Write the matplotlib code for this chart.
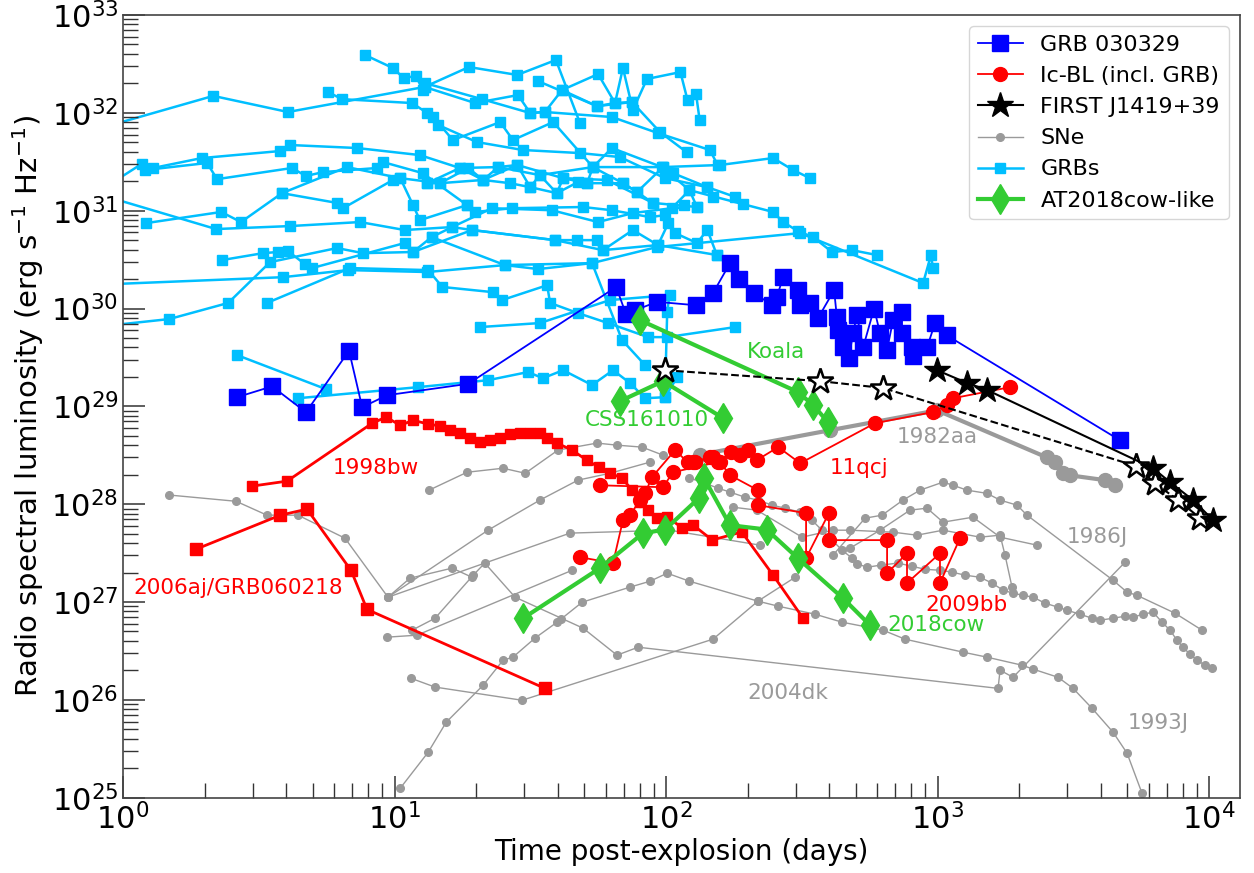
import matplotlib

matplotlib.use("Agg")
import matplotlib.pyplot as plt
from matplotlib.lines import Line2D
from matplotlib.ticker import LogLocator, NullFormatter

# ---- GRB 030329 (dark blue) ----
grb030329_t = [2.63, 3.54, 4.72, 6.8, 7.6, 9.4, 18.7, 65.5, 71.2, 76.9, 92.7, 129, 149,
               172, 186, 211, 246, 256, 270, 306, 312, 339, 363, 416, 426, 430, 449, 472,
               488, 505, 532, 584, 614, 652, 686, 740, 740, 805, 812, 915, 979, 1084, 4700]
grb030329_L = [1.24e29, 1.6e29, 8.7e28, 3.7e29, 9.8e28, 1.3e29, 1.7e29, 1.66e30, 8.8e29,
               9.6e29, 1.17e30, 1.08e30, 1.44e30, 2.9e30, 2.0e30, 1.44e30, 1.08e30, 1.31e30,
               2.1e30, 1.54e30, 1.08e30, 1.14e30, 7.97e29, 1.54e30, 8.1e29, 6.0e29, 4.0e29,
               3.1e29, 5.6e29, 8.5e29, 4.0e29, 1.0e30, 5.6e29, 3.8e29, 7.6e29, 9.2e29, 5.6e29,
               4.0e29, 3.3e29, 4.0e29, 7.1e29, 5.3e29, 4.5e28]

# ---- other GRBs (light blue) ----
grbs_t = [
    [0.756, 2.15, 4.05, 12.9, 18.8, 28.3, 39.3, 48.2],
    [0.724, 1.17, 1.29, 1.95, 3.79, 4.12, 7.28, 12.4, 17.4, 24.1, 34.3, 53.8, 97.5, 158, 248, 294, 339],
    [41.4, 56.2, 64.9, 69.4, 75.5, 85.1, 113, 120, 129, 133],
    [7.79, 9.87, 10.8, 12.0, 12.7, 12.9, 21.0, 31.6, 35.8, 63.2, 93.4, 145, 155],
    [5.69, 6.41, 11.6, 13.2, 14.5, 20.1, 29.7, 48.2, 67.7, 99.1, 142, 180, 192],
    [1.22, 2.30, 2.72, 3.85, 6.68, 10.5, 14.7, 21.2, 28.3, 41.8, 60.6, 89.5, 130],
    [0.724, 2.20, 4.12, 7.46, 10.9, 16.3, 22.9, 38.0, 56.2, 75.5, 105, 122, 248, 270, 306, 348, 409, 484, 598],
    [0.724, 3.88, 6.74, 13.2, 25.5, 53.4, 92.7, 312, 885, 946, 962],
    [0.724, 1.48, 2.44, 3.48, 6.14, 7.65, 11.7, 19.3, 39.0, 58.6, 93.4, 154],
    [3.39, 6.86, 13.3, 15.0, 23.0, 24.9, 36.5, 37.4, 47.4, 61.1, 85.9, 101, 180],
    [2.32, 3.28, 3.72, 4.05, 4.68, 4.97, 10.9, 11.7, 13.7, 25.5, 33.8, 53.4, 68.9, 83.7],
    [2.63, 5.59],
    [4.41, 12.2, 22.1, 31.0, 35.2, 41.8, 53.4, 63.8, 73.7, 83.7, 99.1, 110],
    [1.20, 2.04, 2.22, 4.19, 4.72, 5.45, 8.62, 9.07, 12.7, 18.5, 19.8, 27.1, 49.5, 63.2, 87.3, 99.1, 116],
    [33.8, 55.7, 75.0, 95, 119],
    [20.6, 34.3, 62.2, 103, 101, 99.1],
    [13.2, 14.7, 18.7, 21.2, 26.6, 31.6, 39.6, 47.4, 51.2, 69.4, 78.2, 89.5],
    [13.9, 16.4, 24.5, 27.3, 38.4, 53.8, 63.2, 96.7, 122, 130],
    [13.7, 16.3, 19.3, 39.0, 47.0, 55.7, 58.6, 75.5, 93.4, 102, 108, 130, 142, 154],
    [13.2, 17.4, 21.2, 24.1, 28.3, 31.6, 34.3, 39.6, 41.8, 51.2, 53.8, 69.4, 78.2, 97.5, 106, 142, 149],
    [12.9, 19.8, 28.5, 31.6, 35.8, 41.4, 55.7, 64.9, 75.0],
    [3.85, 6.14, 6.46, 9.87, 10.5, 11.7, 12.4, 18.5],
]
grbs_L = [
    [6.51e31, 1.49e32, 1.02e32, 1.84e32, 2.94e32, 2.44e32, 3.47e32, 7.87e31],
    [1.28e31, 3.0e31, 2.73e31, 3.45e31, 4.07e31, 4.69e31, 4.37e31, 3.7e31, 2.73e31, 2.79e31,
     2.31e31, 2.79e31, 2.79e31, 2.93e31, 3.45e31, 2.6e31, 2.15e31],
    [1.71e32, 2.49e32, 1.26e32, 2.87e32, 1.07e32, 2.22e32, 2.61e32, 1.35e32, 1.56e32, 8.44e31],
    [3.9e32, 2.87e32, 2.27e32, 2.38e32, 1.71e32, 2.02e32, 1.38e32, 9.96e31, 1.02e32, 9.06e31,
     6.21e31, 4.17e31, 2.93e31],
    [1.63e32, 1.38e32, 1.26e32, 9.96e31, 7.5e31, 5.03e31, 4.17e31, 3.88e31, 3.53e31, 2.15e31,
     1.74e31, 1.38e31, 1.17e31],
    [7.47e30, 9.7e30, 7.65e30, 1.51e31, 2.79e31, 2.15e31, 1.91e31, 2.06e31, 2.93e31, 2.15e31,
     2.06e31, 1.2e31, 1.09e31],
    [1.62e31, 6.49e30, 6.96e30, 7.65e30, 6.34e30, 6.8e30, 1.06e31, 1.01e31, 7.65e30, 9.45e30,
     1.06e31, 1.62e31, 9.7e30, 7.65e30, 6.18e30, 5.37e30, 3.78e30, 3.95e30, 3.52e30],
    [1.73e30, 2.09e30, 2.47e30, 2.36e30, 2.78e30, 2.91e30, 4.25e30, 5.9e30, 1.82e30, 3.52e30, 2.59e30],
    [6.3e29, 7.8e29, 1.14e30, 2.98e30, 4.15e30, 3.68e30, 3.78e30, 6.34e30, 5.0e30, 3.95e30,
     4.45e30, 3.52e30],
    [1.14e30, 2.59e30, 2.47e30, 1.66e30, 1.47e30, 1.22e30, 1.73e30, 1.14e30, 8.97e29, 7.1e29,
     5.1e29, 5.1e29, 6.46e29],
    [3.13e30, 3.68e30, 3.78e30, 3.86e30, 2.84e30, 2.59e30, 4.67e30, 3.78e30, 5.37e30, 2.78e30,
     2.53e30, 2.91e30, 4.75e29, 2.64e29],
    [3.34e29, 1.5e29],
    [1.21e29, 1.57e29, 1.85e29, 2.24e29, 1.94e29, 2.34e29, 1.65e29, 2.34e29, 1.73e29, 1.21e29,
     1.24e29, 1.99e29],
    [2.6e31, 3.07e31, 2.1e31, 2.73e31, 2.26e31, 2.48e31, 2.73e31, 3.14e31, 2.42e31, 1.14e31,
     9.7e30, 1.06e31, 1.09e31, 1.01e31, 8.6e30, 9.0e30, 1.14e31],
    [2.11e32, 1.17e32, 1.29e32, 6.36e31, 3.97e31],
    [6.46e29, 7.1e29, 1.22e30, 1.37e30, 9.2e29, 1.24e29],
    [1.91e31, 1.91e31, 2.73e31, 2.06e31, 1.91e31, 1.74e31, 1.51e31, 1.96e31, 1.91e31, 1.91e31,
     1.55e31, 1.2e31],
    [9.06e31, 5.27e31, 8.05e31, 5.27e31, 8.05e31, 2.79e31, 4.37e31, 2.79e31, 1.62e31, 1.09e31],
    [5.37e30, 6.8e30, 6.34e30, 5.0e30, 5.0e30, 5.0e30, 3.95e30, 6.34e30, 4.45e30, 7.47e30,
     5.9e30, 4.67e30, 6.34e30, 3.52e30],
    [1.91e31, 2.73e31, 2.06e31, 2.79e31, 2.93e31, 1.74e31, 2.31e31, 1.51e31, 2.15e31, 1.91e31,
     2.79e31, 1.91e31, 1.55e31, 2.79e31, 2.42e31, 1.74e31, 1.38e31],
    [1.84e32, 1.26e32, 1.52e32, 9.96e31, 1.02e32, 1.71e32, 1.17e32, 1.26e32, 1.29e32],
    [1.51e31, 1.2e31, 1.06e31, 2.06e31, 2.15e31, 1.14e31, 8.0e30, 1.14e31],
]

# ---- SNe (gray) ----
sne_t = [
    [10.5, 13.3, 15.5, 21.2, 25.1, 27.3, 32.9, 39.7, 41.0, 49.1, 73.7, 87.3, 101, 122, 218, 259,
     354, 445, 630, 759, 1242, 1521, 2047, 2249, 2780, 3157, 3707, 4430, 4990, 5665],  # 1993J
    [11.6, 14.1, 19.5, 21.5, 27.8, 49.5, 66.0, 78.9, 1671, 1700, 1897, 4906],  # 2004dk
    [11.5, 14.1, 29.5, 149, 218, 299],
    [1.48, 2.61, 3.39, 4.41, 6.57, 9.46, 11.4, 16.3, 19.3],
    [9.46, 22.1, 34.3, 47.4, 62.2, 87.3],
    [13.4, 18.5, 25.1, 30.3, 40.0, 55.7, 66.0, 81.6, 97.5],
    [9.46, 44.3, 103, 222],
    [9.38, 12.1, 45.1],
    [412, 541, 625, 746, 862, 1048, 1141, 1284, 1521, 1700, 1963, 2136, 4430, 4990, 5430, 7497, 9425],  # 1986J
    [177, 216, 317, 412, 476, 686, 840, 1048, 1434, 1700, 1773, 1881],
    [476, 614, 792, 915, 1048, 1351, 1700, 2326],
    [122, 139, 155, 172, 195, 218, 246, 274, 312, 345, 375, 409, 445, 484, 507, 552, 617, 715,
     805, 899, 1021, 1131, 1263, 1434, 1588, 1743, 1897, 2065, 2249, 2488, 2779, 2999, 3349,
     3708, 3970, 4430, 4906, 5251, 5713, 6220, 6713, 7185, 7625, 8020, 8511, 9032, 9667, 10260],
]
sne_L = [
    [1.25e25, 2.91e25, 5.9e25, 1.41e26, 2.54e26, 2.73e26, 4.27e26, 6.22e26, 6.67e26, 9.95e26,
     1.42e27, 1.63e27, 1.97e27, 1.63e27, 1.02e27, 9.06e26, 7.5e26, 6.22e26, 5.15e26, 4.17e26,
     3.07e26, 2.73e26, 2.26e26, 2.06e26, 1.7e26, 1.31e26, 8.2e25, 4.67e25, 2.85e25, 1.11e25],
    [5.15e26, 6.82e26, 1.88e27, 2.5e27, 1.12e27, 5.4e26, 2.86e26, 3.45e26, 1.31e26, 2.01e26,
     1.7e26, 2.55e27],
    [1.66e26, 1.35e26, 9.9e25, 4.17e26, 1.02e27, 1.79e27],
    [1.24e28, 1.07e28, 7.72e27, 7.72e27, 4.49e27, 1.12e27, 1.75e27, 2.22e27, 1.79e27],
    [1.12e27, 5.42e27, 1.1e28, 1.76e28, 2.07e28, 2.69e28],
    [1.39e28, 2.12e28, 2.33e28, 2.07e28, 3.57e28, 4.21e28, 4.01e28, 3.83e28, 3.17e28],
    [1.12e27, 5.06e27, 5.42e27, 3.81e27],
    [4.37e26, 4.58e26, 2.11e27],
    [3.01e27, 7.19e27, 7.72e27, 1.1e28, 1.39e28, 1.68e28, 1.56e28, 1.39e28, 1.29e28, 1.1e28,
     9.77e27, 7.72e27, 1.67e27, 1.26e27, 1.17e27, 7.68e26, 5.15e26],
    [9.3e27, 8.69e27, 4.6e27, 5.42e27, 5.42e27, 5.17e27, 4.82e27, 5.42e27, 4.6e27, 4.82e27,
     3.01e27, 1.42e27],
    [3.55e27, 5.42e27, 8.69e27, 9.1e27, 6.55e27, 7.36e27, 4.6e27, 3.81e27],
    [1.85e28, 1.64e28, 1.46e28, 1.33e28, 1.18e28, 1.1e28, 9.77e27, 9.1e27, 8.28e27, 6.86e27,
     5.42e27, 4.29e27, 3.39e27, 2.81e27, 2.44e27, 2.27e27, 2.38e27, 2.5e27, 2.32e27, 2.16e27,
     2.11e27, 2.02e27, 1.88e27, 1.79e27, 1.56e27, 1.32e27, 1.23e27, 1.17e27, 1.12e27, 9.73e26,
     8.85e26, 8.24e26, 7.5e26, 6.82e26, 6.52e26, 6.82e26, 7.16e26, 7.0e26, 7.5e26, 7.87e26,
     6.22e26, 5.15e26, 4.06e26, 3.45e26, 2.92e26, 2.54e26, 2.26e26, 2.1e26],
]
sn1982aa_t = [133, 402, 996, 2530, 2710, 2900, 3080, 4140, 4510]
sn1982aa_L = [3.2e28, 5.7e28, 9.1e28, 3.0e28, 2.7e28, 2.1e28, 1.97e28, 1.76e28, 1.56e28]

# ---- Ic-BL (red) ----
sn1998bw_t = [2.99, 4.02, 8.26, 9.3, 10.5, 11.7, 13.3, 14.7, 16.0, 17.4, 19.0, 20.6, 22.5, 24.5,
              26.6, 29.0, 31.6, 34.3, 36.4, 39.7, 45.1, 51.2, 56.6, 62.2, 68.8, 75, 80.2, 85.9,
              92.7, 101, 115, 126, 148, 190, 248, 320]
sn1998bw_L = [1.53e28, 1.72e28, 6.7e28, 7.76e28, 6.4e28, 7.2e28, 6.6e28, 6.3e28, 5.7e28, 5.3e28,
              4.7e28, 4.3e28, 4.5e28, 4.8e28, 5.2e28, 5.3e28, 5.3e28, 5.3e28, 4.7e28, 4.2e28,
              3.57e28, 2.8e28, 2.39e28, 2.07e28, 1.85e28, 1.39e28, 1.05e28, 8.7e27, 7.2e27,
              7.4e27, 5.7e27, 6.1e27, 4.3e27, 5.2e27, 1.88e27, 6.8e26]
sn2006aj_t = [1.86, 3.79, 4.76, 6.92, 7.92, 35.8]
sn2006aj_L = [3.47e27, 7.7e27, 8.9e27, 2.1e27, 8.4e26, 1.31e26]
icbl_t = [
    [48.2, 63.8, 69.4, 73.7, 80.2, 83.7, 88.8, 108, 120, 128, 149],
    [57.1, 97.5, 106, 155, 174, 187, 200, 216, 259, 312, 589, 962, 1084, 1141, 1849],  # 11qcj
    [126, 145, 158, 172, 218, 218, 328, 328, 398, 398, 652, 652, 772, 772, 1021, 1021, 1210],  # 2009bb
]
icbl_L = [
    [2.87e27, 2.5e27, 6.86e27, 7.72e27, 1.1e28, 1.29e28, 1.89e28, 3.57e28, 2.69e28, 2.69e28, 3.03e28],
    [1.56e28, 1.49e28, 2.12e28, 2.69e28, 3.4e28, 3.17e28, 3.57e28, 2.82e28, 3.83e28, 2.62e28,
     6.73e28, 8.73e28, 1.03e29, 1.21e29, 1.57e29],
    [2.69e28, 3.03e28, 2.69e28, 1.98e28, 1.39e28, 9.77e27, 8.09e27, 2.81e27, 8.09e27, 4.29e27,
     4.29e27, 1.97e27, 3.15e27, 1.56e27, 3.15e27, 1.56e27, 4.49e27],
]

# ---- AT2018cow-like (green) ----
cow_t = [29.7, 57.1, 82.3, 99.2, 132, 138, 172, 235, 306, 449, 564]
cow_L = [6.8e26, 2.22e27, 5.05e27, 5.5e27, 1.15e28, 1.85e28, 6.1e27, 5.5e27, 2.8e27, 1.09e27, 5.8e26]
css_t = [67.7, 97.5, 162]
css_L = [1.13e29, 1.81e29, 7.6e28]
koala_t = [80.2, 306, 348, 395]
koala_L = [7.6e29, 1.4e29, 1.03e29, 6.9e28]

# ---- FIRST J1419+39 ----
first_t = [996, 1285, 1521, 6220, 7180, 8730, 10340]
first_L = [2.34e29, 1.73e29, 1.47e29, 2.33e28, 1.68e28, 1.1e28, 6.9e27]
first_open_t = [99.2, 369, 630, 5390, 6320, 7690, 9270]
first_open_L = [2.34e29, 1.81e29, 1.54e29, 2.45e28, 1.64e28, 1.1e28, 7.2e27]

# ---- labels ----
label_text = ["Koala", "CSS161010", "1998bw", "2006aj/GRB060218", "11qcj", "1982aa",
              "1986J", "2009bb", "2018cow", "2004dk", "1993J"]
label_t = [199, 50.3, 5.94, 1.09, 402, 710, 3000, 899, 652, 199, 5030]
label_L = [3.58e29, 7.2e28, 2.33e28, 1.38e27, 2.33e28, 4.84e28, 4.6e27, 9.27e26, 5.8e26, 1.17e26, 5.77e25]
label_kind = ["cow", "cow", "ic", "ic", "ic", "sn", "sn", "ic", "cow", "sn", "sn"]

C_GRB = "#00bfff"
C_SN = "#9a9a9a"
C_RED = "#ff0000"
C_GREEN = "#33cc33"
label_colors = {"cow": C_GREEN, "ic": C_RED, "sn": C_SN}

fig = plt.figure(figsize=(12.54, 8.73), dpi=100)
ax = fig.add_axes([0.0981, 0.0863, 0.8907, 0.8965])
ax.set_xscale("log")
ax.set_yscale("log")

for t, L in zip(grbs_t, grbs_L):
    ax.plot(t, L, "-s", color=C_GRB, ms=7, lw=1.8, zorder=1)

for t, L in zip(sne_t, sne_L):
    ax.plot(t, L, "-o", color=C_SN, ms=5.5, lw=1.0, zorder=2)
ax.plot(sn1982aa_t, sn1982aa_L, "-o", color=C_SN, ms=10, lw=3, zorder=2)

ax.plot(grb030329_t, grb030329_L, "-s", color="#0000ff", ms=11, lw=1.3, zorder=3)

ax.plot(sn1998bw_t, sn1998bw_L, "-s", color=C_RED, ms=7, lw=2, zorder=4)
ax.plot(sn2006aj_t, sn2006aj_L, "-s", color=C_RED, ms=8, lw=2, zorder=4)
for t, L in zip(icbl_t, icbl_L):
    ax.plot(t, L, "-o", color=C_RED, ms=10, lw=1.3, zorder=4)

for t, L in [(cow_t, cow_L), (css_t, css_L), (koala_t, koala_L)]:
    ax.plot(t, L, "-d", color=C_GREEN, ms=15, lw=3, zorder=5)

ax.plot(first_open_t, first_open_L, "--*", color="black", mfc="white", mec="black",
        mew=1.8, ms=19, lw=1.5, zorder=6)
ax.plot(first_t, first_L, "-*", color="black", ms=19, lw=1.5, zorder=6)

for txt, t, L, kind in zip(label_text, label_t, label_L, label_kind):
    ax.text(t, L, txt, color=label_colors[kind], fontsize=15.5, ha="left", va="center", zorder=7)

ax.set_xlim(1, 1.3e4)
ax.set_ylim(1e25, 1e33)
ax.xaxis.set_major_locator(LogLocator(base=10, numticks=20))
ax.yaxis.set_major_locator(LogLocator(base=10, numticks=20))
ax.xaxis.set_minor_locator(LogLocator(base=10, subs=range(2, 10), numticks=100))
ax.yaxis.set_minor_locator(LogLocator(base=10, subs=range(2, 10), numticks=100))
ax.xaxis.set_minor_formatter(NullFormatter())
ax.yaxis.set_minor_formatter(NullFormatter())
ax.tick_params(which="major", direction="in", length=16, width=1.1, labelsize=22,
               top=False, right=False, colors="#333333", labelcolor="black")
ax.tick_params(which="minor", direction="in", length=11, width=1.0, top=False, right=False,
               colors="#333333")
for sp in ax.spines.values():
    sp.set_color("#444444")
    sp.set_linewidth(1.2)

ax.set_xlabel("Time post-explosion (days)", fontsize=20, labelpad=2)
ax.set_ylabel(r"Radio spectral luminosity (erg s$^{-1}$ Hz$^{-1}$)", fontsize=21, labelpad=4)

handles = [
    Line2D([], [], color="#0000ff", marker="s", ms=11, lw=1.3),
    Line2D([], [], color=C_RED, marker="o", ms=10, lw=1.3),
    Line2D([], [], color="black", marker="*", ms=19, lw=1.5),
    Line2D([], [], color=C_SN, marker="o", ms=5.5, lw=1.0),
    Line2D([], [], color=C_GRB, marker="s", ms=7, lw=1.8),
    Line2D([], [], color=C_GREEN, marker="d", ms=15, lw=3),
]
names = ["GRB 030329", "Ic-BL (incl. GRB)", "FIRST J1419+39", "SNe", "GRBs", "AT2018cow-like"]
ax.legend(handles, names, loc="upper right", fontsize=16)

fig.savefig("out.png", dpi=100)
